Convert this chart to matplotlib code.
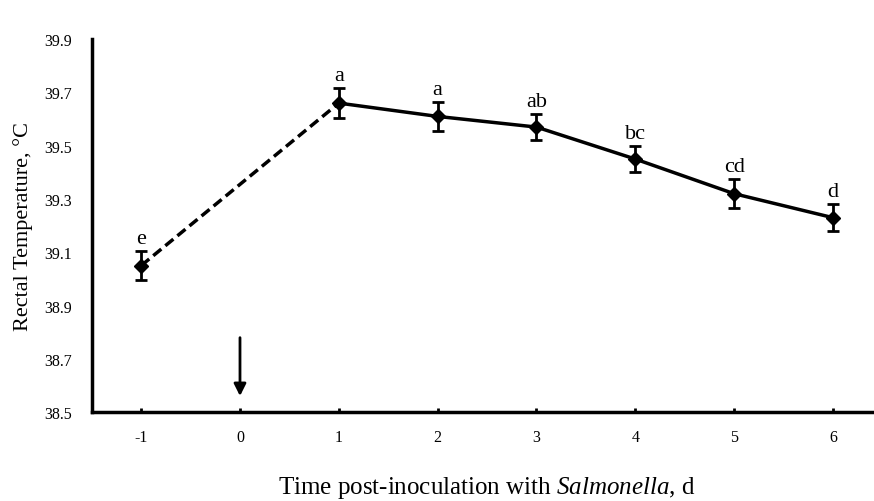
import matplotlib.pyplot as plt

# rectal temperature after salmonella challenge
days = [-1, 1, 2, 3, 4, 5, 6]
temp = [39.05, 39.66, 39.61, 39.57, 39.45, 39.32, 39.23]
sem = [0.055, 0.055, 0.055, 0.05, 0.05, 0.055, 0.05]
letters = ["e", "a", "a", "ab", "bc", "cd", "d"]
xticks = [-1, 0, 1, 2, 3, 4, 5, 6]
yticks = [38.5, 38.7, 38.9, 39.1, 39.3, 39.5, 39.7, 39.9]

plt.rcParams['font.family'] = ['Liberation Serif', 'DejaVu Serif']
plt.rcParams['mathtext.fontset'] = 'custom'
plt.rcParams['mathtext.rm'] = 'Liberation Serif'
plt.rcParams['mathtext.it'] = 'Liberation Serif:italic'

fig = plt.figure(figsize=(8.74, 5.02), dpi=100)
ax = fig.add_axes([0.105, 0.177, 0.9045, 0.743])

# dashed baseline -> day 1, solid after
ax.plot(days[:2], temp[:2], '--', color='black', lw=2.5, dashes=(3, 1.5))
ax.plot(days[1:], temp[1:], '-', color='black', lw=2.5)
ax.errorbar(days, temp, yerr=sem, fmt='D', color='black', ms=7,
            elinewidth=2, capsize=4, capthick=2, zorder=3)

for x, y, e, l in zip(days, temp, sem, letters):
    ax.text(x, y + e + 0.012, l, ha='center', va='bottom', fontsize=16)

# inoculation arrow at day 0
ax.annotate("", xy=(0, 38.55), xytext=(0, 38.79),
            arrowprops=dict(arrowstyle='-|>', color='black', lw=2,
                            mutation_scale=18))

ax.set_xlim(-1.5, 6.5)
ax.set_ylim(38.5, 39.9)
ax.set_xticks(xticks)
ax.set_xticklabels([str(t) for t in xticks])
ax.set_yticks(yticks)
ax.set_yticklabels([f"{t:.1f}" for t in yticks])
ax.tick_params(axis='x', direction='in', length=3, width=2, labelsize=11.5, pad=12)
ax.tick_params(axis='y', length=0, labelsize=11.5, pad=14)

for s in ['top', 'right']:
    ax.spines[s].set_visible(False)
for s in ['left', 'bottom']:
    ax.spines[s].set_linewidth(2.5)

ax.set_ylabel("Rectal Temperature, °C", fontsize=16, labelpad=8)
ax.set_xlabel("Time post-inoculation with $\\mathit{Salmonella}$, d", fontsize=18, labelpad=21)

fig.savefig("out.png", dpi=100)
